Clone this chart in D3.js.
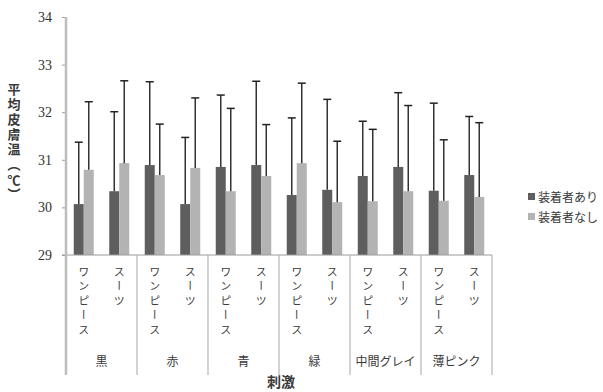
<!DOCTYPE html>
<html>
<head>
<meta charset="utf-8">
<script src="https://cdn.jsdelivr.net/npm/d3@7"></script>
<style>
  body { margin: 0; background: #fff; }
  svg { display: block; }
  text { font-family: "Noto Sans CJK JP", sans-serif; fill: #3a3a3a; }
  .num { font-family: "Liberation Serif", serif; }
</style>
</head>
<body>
<svg id="chart" width="603" height="392"></svg>
<script>
// colours (stimulus) and garment types
const groups = ["黒", "赤", "青", "緑", "中間グレイ", "薄ピンク"];
const garments = ["ワンピース", "スーツ"];
const seriesNames = ["装着者あり", "装着者なし"];
const yTicks = [29, 30, 31, 32, 33, 34];

// mean skin temperature and SD, one value per (group, garment)
const meanWith = [30.07, 30.34, 30.89, 30.07, 30.85, 30.89, 30.26, 30.37, 30.66, 30.85, 30.35, 30.68];
const sdWith = [1.30, 1.67, 1.75, 1.40, 1.51, 1.76, 1.62, 1.90, 1.15, 1.56, 1.84, 1.23];
const meanWithout = [30.79, 30.93, 30.68, 30.83, 30.34, 30.66, 30.93, 30.11, 30.13, 30.34, 30.14, 30.22];
const sdWithout = [1.43, 1.73, 1.07, 1.47, 1.74, 1.08, 1.68, 1.28, 1.51, 1.80, 1.28, 1.56];

const colors = { "装着者あり": "#5e5e5e", "装着者なし": "#b3b3b3" };

let canvas = {
  "width": 603,
  "height": 392,
  "left": 66,
  "right": 492,
  "top": 17,
  "bottom": 255,
  "labelBottom": 375
};

let svg = d3.select("#chart");

// one slot per (group, garment)
let slots = [];
groups.forEach((g, gi) => {
  garments.forEach((t, ti) => {
    slots.push({ "key": g + "-" + t, "group": g, "garment": t, "i": gi * 2 + ti });
  });
});

let xScale = d3.scaleBand()
  .domain(slots.map(d => d.key))
  .range([canvas.left, canvas.right])
  .padding(0);

let bw = xScale.bandwidth();

let xSub = d3.scaleBand()
  .domain(seriesNames)
  .range([bw / 2 - 10, bw / 2 + 10]);

let yScale = d3.scaleLinear()
  .domain([29, 34])
  .range([canvas.bottom, canvas.top]);

let bars = [];
slots.forEach(s => {
  bars.push({ "key": s.key, "series": seriesNames[0], "mean": meanWith[s.i], "sd": sdWith[s.i] });
  bars.push({ "key": s.key, "series": seriesNames[1], "mean": meanWithout[s.i], "sd": sdWithout[s.i] });
});

// Y axis
let yAxis = d3.axisLeft(yScale).tickValues(yTicks).tickSize(4).tickPadding(10).tickFormat(d3.format("d"));
let gy = svg.append("g")
  .attr("transform", `translate(${canvas.left}, 0)`)
  .call(yAxis);
gy.select(".domain").remove();
gy.selectAll(".tick line").attr("stroke", "#9a9a9a");
gy.selectAll(".tick text")
  .attr("class", "num")
  .attr("font-size", "14px")
  .style("fill", "#333");

// Bars
svg.append("g")
  .selectAll("rect")
  .data(bars)
  .join("rect")
  .attr("x", d => xScale(d.key) + xSub(d.series))
  .attr("width", xSub.bandwidth())
  .attr("y", d => yScale(d.mean))
  .attr("height", d => yScale(29) - yScale(d.mean))
  .attr("fill", d => colors[d.series]);

// Error bars (upper only)
let err = svg.append("g").selectAll("g")
  .data(bars)
  .join("g");

err.append("line")
  .attr("x1", d => xScale(d.key) + xSub(d.series) + xSub.bandwidth() / 2)
  .attr("x2", d => xScale(d.key) + xSub(d.series) + xSub.bandwidth() / 2)
  .attr("y1", d => yScale(d.mean))
  .attr("y2", d => yScale(d.mean + d.sd))
  .attr("stroke", "#333")
  .attr("stroke-width", 1.5);

err.append("line")
  .attr("x1", d => xScale(d.key) + xSub(d.series) + xSub.bandwidth() / 2 - 4)
  .attr("x2", d => xScale(d.key) + xSub(d.series) + xSub.bandwidth() / 2 + 4)
  .attr("y1", d => yScale(d.mean + d.sd))
  .attr("y2", d => yScale(d.mean + d.sd))
  .attr("stroke", "#222")
  .attr("stroke-width", 1.5);

// axis lines
svg.append("line")
  .attr("x1", canvas.left - 4).attr("x2", canvas.right)
  .attr("y1", canvas.bottom).attr("y2", canvas.bottom)
  .attr("stroke", "#9a9a9a").attr("stroke-width", 1);

svg.append("line")
  .attr("x1", canvas.left).attr("x2", canvas.left)
  .attr("y1", canvas.top).attr("y2", canvas.labelBottom)
  .attr("stroke", "#bdbdbd").attr("stroke-width", 2.5);

// group separators
let groupEdges = groups.map((g, gi) => xScale(g + "-" + garments[0])).slice(1).concat([canvas.right]);
svg.append("g")
  .selectAll("line")
  .data(groupEdges)
  .join("line")
  .attr("x1", d => d).attr("x2", d => d)
  .attr("y1", canvas.bottom).attr("y2", canvas.labelBottom)
  .attr("stroke", "#b5b5b5").attr("stroke-width", 1.2);

// garment labels, vertical
svg.append("g")
  .selectAll("text")
  .data(slots)
  .join("text")
  .attr("x", d => xScale(d.key) + bw / 2)
  .attr("y", 266)
  .attr("writing-mode", "vertical-rl")
  .attr("font-size", "11px")
  .attr("letter-spacing", "3.5px")
  .text(d => d.garment);

// group labels
svg.append("g")
  .selectAll("text")
  .data(groups)
  .join("text")
  .attr("x", g => xScale(g + "-" + garments[0]) + bw)
  .attr("y", 366)
  .attr("text-anchor", "middle")
  .attr("font-size", "12px")
  .text(g => g);

// axis titles
svg.append("text")
  .attr("x", (canvas.left + canvas.right) / 2 + 2)
  .attr("y", 387)
  .attr("text-anchor", "middle")
  .attr("font-size", "14px")
  .attr("font-weight", "bold")
  .text("刺激");

// y title: vertical text, with the ℃ set upright on its own
let yTitle = svg.append("g").attr("font-size", "13px").attr("font-weight", "bold");
yTitle.append("text")
  .attr("x", 14)
  .attr("y", 83)
  .attr("writing-mode", "vertical-rl")
  .attr("letter-spacing", "2px")
  .text("平均皮膚温（");
yTitle.append("text")
  .attr("x", 14)
  .attr("y", 185)
  .attr("text-anchor", "middle")
  .text("℃");
yTitle.append("text")
  .attr("x", 14)
  .attr("y", 188)
  .attr("writing-mode", "vertical-rl")
  .text("）");

// legend
let legend = svg.append("g")
  .selectAll("g")
  .data(seriesNames)
  .join("g")
  .attr("transform", (d, i) => `translate(528, ${197 + i * 20})`);

legend.append("rect")
  .attr("x", 0).attr("y", -4)
  .attr("width", 7).attr("height", 7)
  .attr("fill", d => colors[d]);

legend.append("text")
  .attr("x", 10)
  .attr("y", 4.5)
  .attr("font-size", "12px")
  .text(d => d);
</script>
</body>
</html>
